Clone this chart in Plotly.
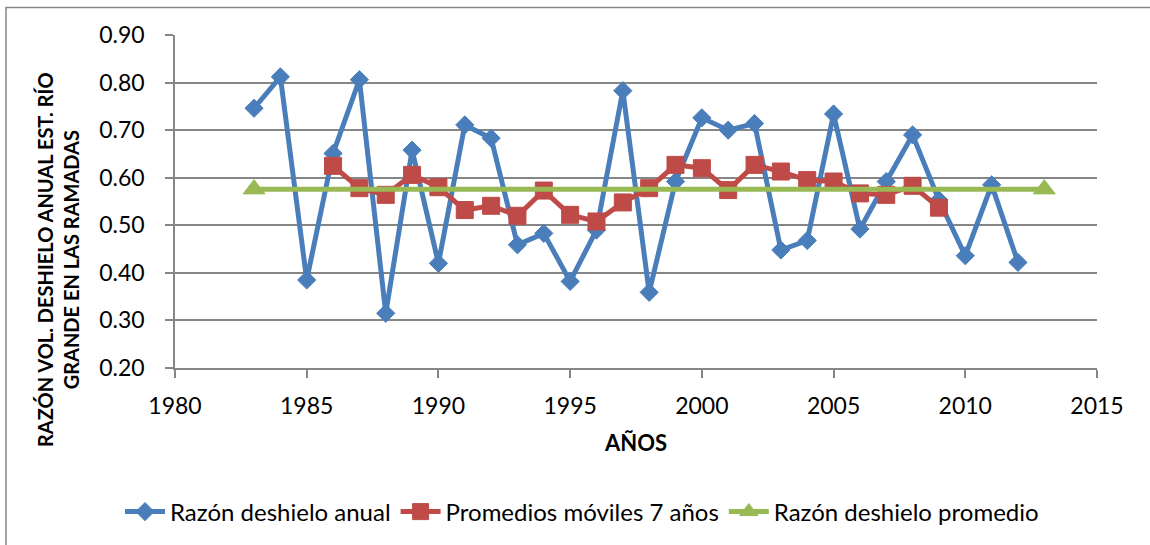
import plotly.graph_objects as go

# Annual snowmelt volume ratio, Río Grande en Las Ramadas station
anios = list(range(1983, 2013))
razon_anual = [0.746, 0.812, 0.385, 0.651, 0.806, 0.315, 0.658, 0.420, 0.711, 0.683,
               0.459, 0.483, 0.382, 0.490, 0.783, 0.359, 0.592, 0.726, 0.700, 0.714,
               0.448, 0.468, 0.734, 0.492, 0.592, 0.690, 0.553, 0.436, 0.585, 0.422]

# 7-year moving averages (centred)
anios_mm = list(range(1986, 2010))
promedio_movil = [0.625, 0.578, 0.564, 0.606, 0.580, 0.532, 0.541, 0.520, 0.573, 0.522,
                  0.508, 0.548, 0.578, 0.627, 0.620, 0.574, 0.627, 0.613, 0.595, 0.592,
                  0.567, 0.564, 0.583, 0.537]

# Long-term mean ratio
anios_prom = [1983, 2013]
razon_promedio = [0.576, 0.576]

nombres = ["Razón deshielo anual", "Promedios móviles 7 años", "Razón deshielo promedio"]
y_ticks = [0.20, 0.30, 0.40, 0.50, 0.60, 0.70, 0.80, 0.90]

AZUL = "#4A7EBB"
ROJO = "#BE4B48"
VERDE = "#98B954"
GRIS = "#868686"
FUENTE = "Lato"

fig = go.Figure()
fig.add_trace(go.Scatter(
    x=anios, y=razon_anual, name=nombres[0], mode="lines+markers",
    line=dict(color=AZUL, width=5),
    marker=dict(symbol="diamond", size=14, color=AZUL, line=dict(color=AZUL, width=1)),
))
fig.add_trace(go.Scatter(
    x=anios_mm, y=promedio_movil, name=nombres[1], mode="lines+markers",
    line=dict(color=ROJO, width=5),
    marker=dict(symbol="square", size=17, color=ROJO, line=dict(color=ROJO, width=1)),
))
fig.add_trace(go.Scatter(
    x=anios_prom, y=razon_promedio, name=nombres[2], mode="lines+markers",
    line=dict(color=VERDE, width=5),
    marker=dict(symbol="triangle-up", size=19, color=VERDE, line=dict(color=VERDE, width=1)),
))

L, R, T, B = 175, 53, 35, 177
W, H = 1150, 545
pw, ph = W - L - R, H - T - B

def px_x(x):
    return (x - L) / pw

def px_y(y):
    return (H - B - y) / ph

fig.update_layout(
    width=W, height=H,
    margin=dict(l=L, r=R, t=T, b=B, autoexpand=False),
    paper_bgcolor="white", plot_bgcolor="white",
    font=dict(family=FUENTE, size=23, color="#000000"),
    showlegend=True,
    legend=dict(
        orientation="h", x=px_x(582), xanchor="center", y=px_y(512), yanchor="middle",
        font=dict(family=FUENTE, size=24, color="#000000"),
        itemwidth=40, tracegroupgap=0, bgcolor="rgba(0,0,0,0)",
    ),
    xaxis=dict(
        range=[1980, 2015], dtick=5, tick0=1980,
        showgrid=False, zeroline=False,
        showline=True, linecolor=GRIS, linewidth=1.5,
        ticks="outside", ticklen=8, tickcolor=GRIS, tickwidth=1.5,
        ticklabelstandoff=9,
        tickfont=dict(family=FUENTE, size=23, color="#000000"),
    ),
    yaxis=dict(
        range=[0.20, 0.90], tickvals=y_ticks, tickformat=".2f",
        showgrid=True, gridcolor=GRIS, gridwidth=1.5,
        zeroline=False,
        showline=True, linecolor=GRIS, linewidth=1.5,
        ticks="outside", ticklen=8, tickcolor=GRIS, tickwidth=1.5,
        ticklabelstandoff=16,
        tickfont=dict(family=FUENTE, size=23, color="#000000"),
    ),
    shapes=[dict(
        type="rect", xref="paper", yref="paper",
        x0=px_x(6), x1=px_x(1160), y0=px_y(560), y1=px_y(7.5),
        line=dict(color=GRIS, width=1.5), fillcolor="rgba(0,0,0,0)", layer="below",
    )],
    annotations=[
        dict(
            text="<b>AÑOS</b>", xref="paper", yref="paper",
            x=px_x(635), y=px_y(442), xanchor="center", yanchor="middle",
            showarrow=False, font=dict(family=FUENTE, size=22, color="#000000"),
        ),
        dict(
            text="<b>RAZÓN VOL. DESHIELO ANUAL EST. RÍO<br>GRANDE EN LAS RAMADAS</b>",
            xref="paper", yref="paper", x=px_x(58), y=px_y(260),
            xanchor="center", yanchor="middle", textangle=-90, showarrow=False,
            font=dict(family=FUENTE, size=20, color="#000000"),
        ),
    ],
)

fig.write_html("out.html")
